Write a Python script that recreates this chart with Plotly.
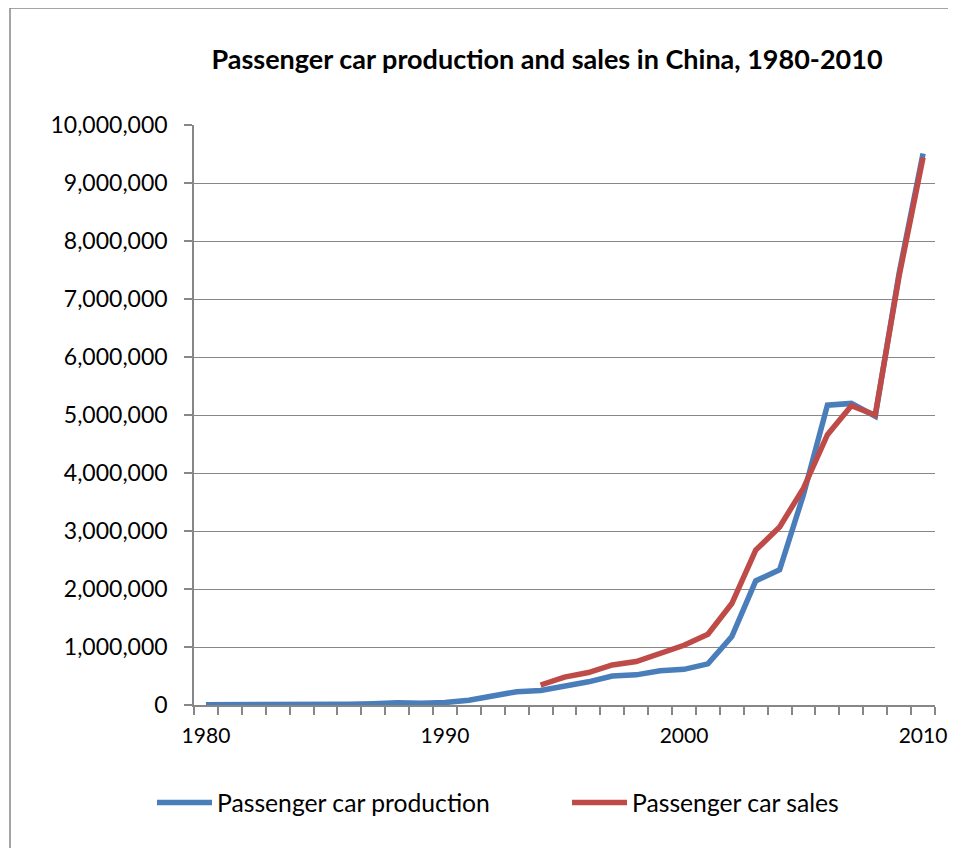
import plotly.graph_objects as go

years = list(range(1980, 2011))
production = [5418, 3428, 4030, 6046, 6010, 5207, 12297, 20865, 36798, 28820,
              42409, 81055, 162725, 229697, 250333, 320000, 400000, 500000, 520000, 590000,
              615000, 710000, 1180000, 2140000, 2330000, 3630000, 5170000, 5200000, 4980000, 7450000,
              9510000]
sales_years = list(range(1994, 2011))
sales = [345000, 480000, 560000, 690000, 750000, 880000, 1030000, 1220000, 1750000, 2670000,
         3070000, 3740000, 4660000, 5160000, 5000000, 7400000, 9440000]
decade_ticks = [1980, 1990, 2000, 2010]
title_text = "Passenger car production and sales in China, 1980-2010"

OFF = 8  # page body margin
W, H = 956 - OFF, 856 - 2 * OFF
L, R, T, B = 194 - OFF, 935 - OFF, 125 - OFF, 705 - OFF
pw, ph = R - L, B - T

def px(x):
    return (x - OFF - L) / pw

def py(y):
    return (B - (y - OFF)) / ph

FONT = "Lato"
GRAY = "#878787"

fig = go.Figure()
fig.add_trace(go.Scatter(x=years, y=production, mode="lines", name="Passenger car production",
                         line=dict(color="#4A7EBB", width=5.5), legend="legend", showlegend=True))
fig.add_trace(go.Scatter(x=sales_years, y=sales, mode="lines", name="Passenger car sales",
                         line=dict(color="#BE4B48", width=5.5), legend="legend2", showlegend=True))

fig.update_layout(
    width=W, height=H,
    showlegend=True,
    margin=dict(l=L, r=W - R, t=T, b=H - B, autoexpand=False),
    paper_bgcolor="white", plot_bgcolor="white",
    font=dict(family=FONT, size=23, color="black"),
    title=dict(text="<b>" + title_text + "</b>", font=dict(family=FONT, size=27, color="black"),
               xref="paper", x=px(547), xanchor="center",
               yref="container", y=1 - (60 - OFF) / H, yanchor="middle"),
    xaxis=dict(range=[1979.5, 2010.5], tickmode="array", tickvals=decade_ticks,
               ticktext=[str(v) for v in decade_ticks], ticks="", showgrid=False,
               showline=True, linecolor=GRAY, linewidth=1.5, zeroline=False,
               tickfont=dict(family=FONT, size=21),
               ticklabelstandoff=11, ticklabeloverflow="allow", automargin=False,
               minor=dict(tickmode="linear", tick0=1979.5, dtick=1, ticks="outside",
                          ticklen=8, tickcolor=GRAY, tickwidth=1.5, showgrid=False)),
    yaxis=dict(range=[0, 10000000], dtick=1000000, tickformat=",d", ticks="outside",
               ticklen=8, tickcolor=GRAY, tickwidth=1.5, showgrid=True, gridcolor=GRAY,
               gridwidth=1, showline=True, linecolor=GRAY, linewidth=1.5, zeroline=False,
               ticklabelstandoff=12, automargin=False),
    legend=dict(orientation="h", x=px(152), xanchor="left", y=py(803), yanchor="middle",
                itemwidth=55, font=dict(family=FONT, size=24.7), bgcolor="rgba(0,0,0,0)"),
    legend2=dict(orientation="h", x=px(567), xanchor="left", y=py(803), yanchor="middle",
                 itemwidth=55, font=dict(family=FONT, size=24.7), bgcolor="rgba(0,0,0,0)"),
    shapes=[
        dict(type="line", xref="paper", yref="paper", x0=px(10), x1=px(10),
             y0=py(900), y1=py(8), line=dict(color=GRAY, width=1.5), layer="below"),
        dict(type="line", xref="paper", yref="paper", x0=px(10), x1=px(1000),
             y0=py(8), y1=py(8), line=dict(color=GRAY, width=1.5), layer="below"),
    ],
)

fig.write_html("out.html")
